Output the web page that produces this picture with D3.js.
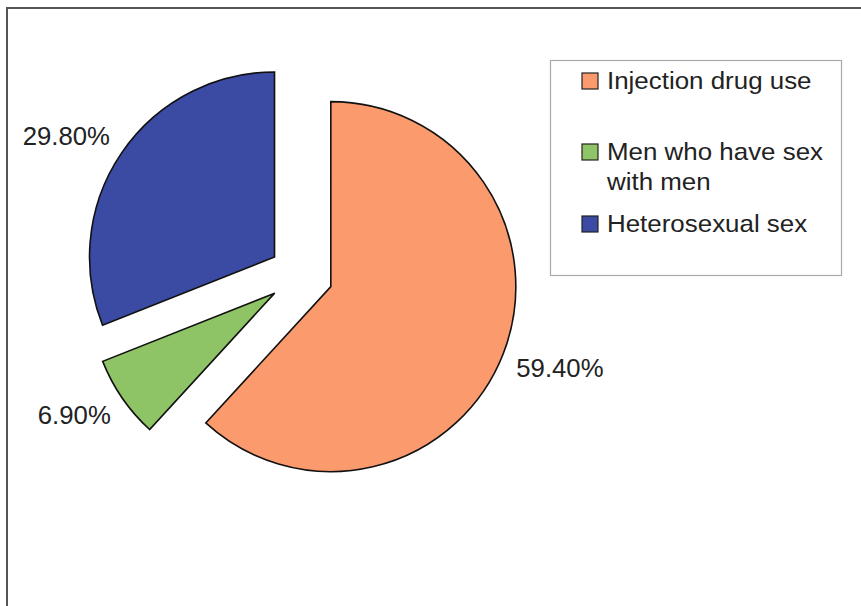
<!DOCTYPE html>
<html>
<head>
<meta charset="utf-8">
<script src="https://cdn.jsdelivr.net/npm/d3@7"></script>
<style>
  body { margin: 0; background: #fff; }
  text { font-family: "Liberation Sans", Arial, sans-serif; fill: #222; }
</style>
</head>
<body>
<div id="chart"></div>
<script>
// data
let categories = ["Injection drug use", "Men who have sex with men", "Heterosexual sex"];
let values = [59.4, 6.9, 29.8];
let valueLabels = ["59.40%", "6.90%", "29.80%"];
let colors = ["#fb9a6c", "#8ec465", "#3b4aa2"];

let width = 861;
let height = 606;
let cx = 301, cy = 275;
let radius = 185;
let explode = 32;
let labelGap = 14;

let svg = d3.select('#chart').append('svg')
    .attr('width', width)
    .attr('height', height);

// outer frame (only left + top visible in scan)
svg.append('path')
    .attr('d', 'M7,606 L7,8 L861,8')
    .attr('fill', 'none')
    .attr('stroke', '#555')
    .attr('stroke-width', 2);

let pie = d3.pie().sort(null).value(function (d) { return d; });
let arcs = pie(values);

let arc = d3.arc().innerRadius(0).outerRadius(radius);

function midDir(d) {
    let a = (d.startAngle + d.endAngle) / 2;
    return [Math.sin(a), -Math.cos(a)];
}

let g = svg.append('g')
    .attr('transform', 'translate(' + cx + ',' + cy + ')');

g.selectAll('path.slice').data(arcs)
    .enter().append('path')
    .attr('class', 'slice')
    .attr('d', arc)
    .attr('fill', function (d, i) { return colors[i]; })
    .attr('stroke', '#111')
    .attr('stroke-width', 1.6)
    .attr('transform', function (d) {
        let v = midDir(d);
        return 'translate(' + (v[0] * explode) + ',' + (v[1] * explode) + ')';
    });

// labels sit just outside the exploded slice, anchored by the nearest corner
let labelSize = 25;
g.selectAll('text.lbl').data(arcs)
    .enter().append('text')
    .attr('class', 'lbl')
    .attr('transform', function (d) {
        let v = midDir(d);
        let r = explode + radius + labelGap;
        let x = v[0] * r;
        let y = v[1] * r;
        if (v[1] > 0) y += labelSize * 0.72;
        return 'translate(' + x + ',' + y + ') scale(1.03,1)';
    })
    .attr('text-anchor', function (d) { return midDir(d)[0] < 0 ? 'end' : 'start'; })
    .style('font-size', labelSize + 'px')
    .text(function (d, i) { return valueLabels[i]; });

// legend
let legend = svg.append('g');
legend.append('rect')
    .attr('x', 550.5).attr('y', 60.5)
    .attr('width', 291).attr('height', 215)
    .attr('fill', 'none')
    .attr('stroke', '#aaa')
    .attr('stroke-width', 1.2);

let legendRows = [
    { lines: ["Injection drug use"], y: 89 },
    { lines: ["Men who have sex", "with men"], y: 160 },
    { lines: ["Heterosexual sex"], y: 232 }
];

legendRows.forEach(function (row, i) {
    legend.append('rect')
        .attr('x', 582).attr('y', row.y - 16)
        .attr('width', 16).attr('height', 16)
        .attr('fill', colors[i])
        .attr('stroke', '#222')
        .attr('stroke-width', 1.2);
    let t = legend.append('text')
        .attr('transform', 'translate(607,' + row.y + ') scale(1.08,1)')
        .style('font-size', '24px');
    row.lines.forEach(function (l, j) {
        t.append('tspan')
            .attr('x', 0)
            .attr('y', j * 30)
            .text(l);
    });
});
</script>
</body>
</html>
